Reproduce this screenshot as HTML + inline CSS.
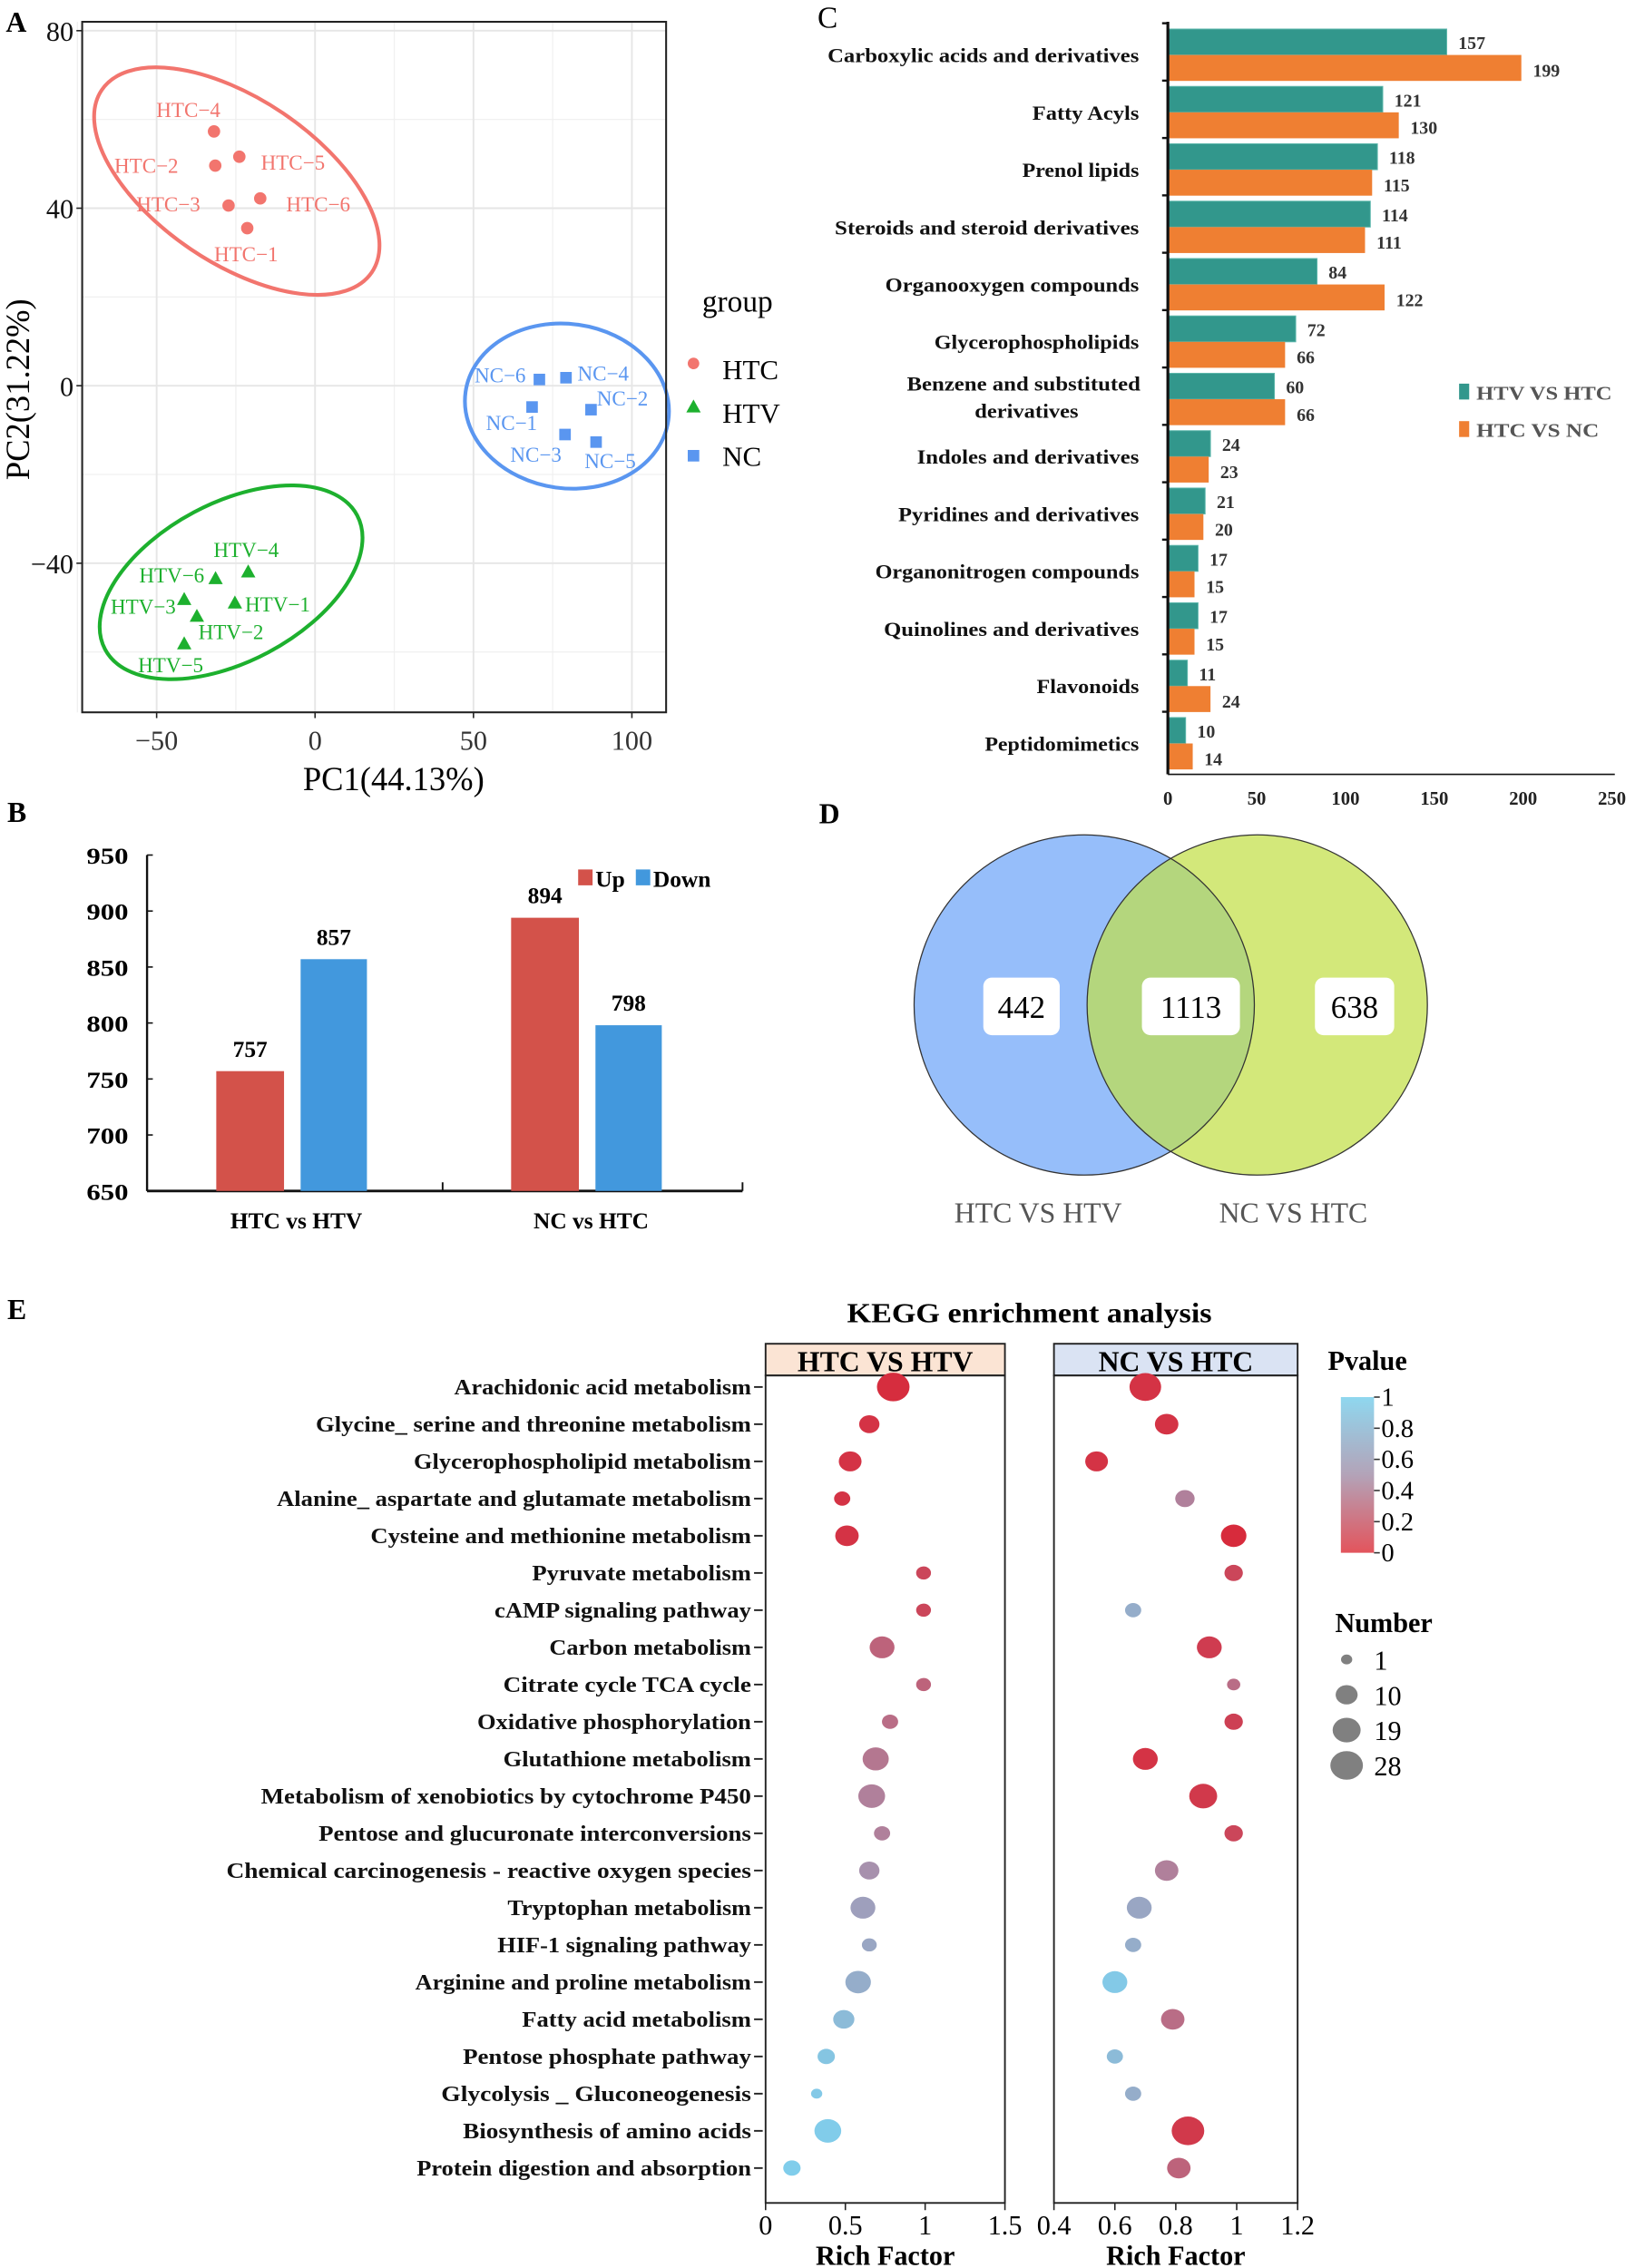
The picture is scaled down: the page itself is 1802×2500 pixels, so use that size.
<!DOCTYPE html>
<html><head><meta charset="utf-8"><style>
html,body{margin:0;padding:0;background:#fff}
svg{display:block;font-family:"Liberation Serif",serif}
</style></head><body>
<svg id="fig" xmlns="http://www.w3.org/2000/svg" width="1802" height="2500" viewBox="0 0 1134 1573">
<rect width="1134" height="1573" fill="#fff"/>
<g id="pA"></g>
<g id="pB"></g>
<g id="pC"></g>
<g id="pD"></g>
<g id="pE"></g>
</svg>
<script>
// ---------- Panel A data ----------
const pcaGroups=["HTC","HTV","NC"];
const htcNames=["HTC−1","HTC−2","HTC−3","HTC−4","HTC−5","HTC−6"];
const htcX=[-21.4,-31.5,-27.3,-31.9,-23.9,-17.3];
const htcY=[35.5,49.6,40.6,57.3,51.6,42.2];
const htvNames=["HTV−1","HTV−2","HTV−3","HTV−4","HTV−5","HTV−6"];
const htvX=[-25.3,-37.3,-41.3,-21.1,-41.3,-31.4];
const htvY=[-48.9,-51.9,-48.1,-41.9,-58.1,-43.4];
const ncNames=["NC−1","NC−2","NC−3","NC−4","NC−5","NC−6"];
const ncX=[68.5,87.1,78.9,79.2,88.7,70.8];
const ncY=[-4.8,-5.4,-11,1.8,-12.7,1.4];
const pcaXTicks=[-50,0,50,100];
const pcaYTicks=[80,40,0,-40];
// ---------- Panel B data ----------
const bCats=["HTC vs HTV","NC vs HTC"];
const bUp=[757,894];
const bDown=[857,798];
const bTicks=[650,700,750,800,850,900,950];
// ---------- Panel C data ----------
const cCats=["Carboxylic acids and derivatives","Fatty Acyls","Prenol lipids","Steroids and steroid derivatives","Organooxygen compounds","Glycerophospholipids","Benzene and substituted|derivatives","Indoles and derivatives","Pyridines and derivatives","Organonitrogen compounds","Quinolines and derivatives","Flavonoids","Peptidomimetics"];
const cHTV=[157,121,118,114,84,72,60,24,21,17,17,11,10];
const cHTC=[199,130,115,111,122,66,66,23,20,15,15,24,14];
const cTicks=[0,50,100,150,200,250];
// ---------- Panel D data ----------
const vennVals=[442,1113,638];
const vennLabels=["HTC VS HTV","NC VS HTC"];
// ---------- Panel E data ----------
const keggPaths=["Arachidonic acid metabolism","Glycine_ serine and threonine metabolism","Glycerophospholipid metabolism","Alanine_ aspartate and glutamate metabolism","Cysteine and methionine metabolism","Pyruvate metabolism","cAMP signaling pathway","Carbon metabolism","Citrate cycle TCA cycle","Oxidative phosphorylation","Glutathione metabolism","Metabolism of xenobiotics by cytochrome P450","Pentose and glucuronate interconversions","Chemical carcinogenesis - reactive oxygen species","Tryptophan metabolism","HIF-1 signaling pathway","Arginine and proline metabolism","Fatty acid metabolism","Pentose phosphate pathway","Glycolysis _ Gluconeogenesis","Biosynthesis of amino acids","Protein digestion and absorption"];
const leftRich=[0.80,0.65,0.53,0.48,0.51,0.99,0.99,0.73,0.99,0.78,0.69,0.665,0.73,0.65,0.61,0.65,0.58,0.49,0.38,0.32,0.39,0.165];
const leftP=[0.02,0.05,0.05,0.05,0.05,0.15,0.15,0.3,0.3,0.35,0.4,0.45,0.45,0.55,0.65,0.7,0.75,0.85,0.92,0.95,0.97,0.98];
const leftNum=[28,8,11,4,12,3,3,14,3,4,16,17,4,8,14,3,15,9,5,1,17,5];
const rightRich=[0.70,0.77,0.54,0.83,0.99,0.99,0.66,0.91,0.99,0.99,0.70,0.89,0.99,0.77,0.68,0.66,0.60,0.79,0.60,0.66,0.84,0.81];
const rightP=[0.05,0.05,0.05,0.45,0.01,0.15,0.75,0.1,0.35,0.12,0.05,0.08,0.15,0.45,0.7,0.75,0.95,0.35,0.85,0.75,0.08,0.3];
const rightNum=[26,12,11,7,15,6,4,14,2,6,14,19,6,12,14,4,14,12,4,4,28,12];
const leftTicks=[0,0.5,1,1.5];
const rightTicks=[0.4,0.6,0.8,1,1.2];
const pTicks=[1,0.8,0.6,0.4,0.2,0];
const numTicks=[1,10,19,28];

const NS="http://www.w3.org/2000/svg";
function mk(tag,attrs,parent,txt){const e=document.createElementNS(NS,tag);for(const k in attrs)e.setAttribute(k,attrs[k]);if(txt!==undefined)e.textContent=txt;parent.appendChild(e);return e;}
function T(parent,x,y,s,size,anchor,opts){opts=opts||{};const a={x:x,y:y,'font-size':size,'text-anchor':anchor||'start',fill:opts.fill||'#000'};if(opts.bold)a['font-weight']='bold';if(opts.tl){a.textLength=opts.tl;a.lengthAdjust='spacingAndGlyphs';}if(opts.tr)a.transform=opts.tr;return mk('text',a,parent,s);}

// ================= Panel A =================
(function(){
const g=document.getElementById('pA');
const X0=57,X1=462,Y0=15,Y1=494,dx0=-73.5,dx1=110.8,dy0=-73.6,dy1=82;
const sx=v=>X0+(v-dx0)/(dx1-dx0)*(X1-X0);
const sy=v=>Y1-(v-dy0)/(dy1-dy0)*(Y1-Y0);
let e=T(g,4,22,"A",20,'start',{bold:true});

const grid=mk('g',{},g);
[-75,-25,25,75].forEach(v=>mk('line',{x1:sx(v),x2:sx(v),y1:Y0,y2:Y1,stroke:'#f0f0f0','stroke-width':0.8},grid));
[60,20,-20,-60].forEach(v=>mk('line',{x1:X0,x2:X1,y1:sy(v),y2:sy(v),stroke:'#f0f0f0','stroke-width':0.8},grid));
pcaXTicks.forEach(v=>mk('line',{x1:sx(v),x2:sx(v),y1:Y0,y2:Y1,stroke:'#e6e6e6','stroke-width':1.2},grid));
pcaYTicks.forEach(v=>mk('line',{x1:X0,x2:X1,y1:sy(v),y2:sy(v),stroke:'#e6e6e6','stroke-width':1.2},grid));
const ell=[[-24.7,46.1,113,57,34,'#f2756e'],[79.5,-4.6,71,57,8,'#5a96f0'],[-26.5,-44.3,99,55,-28,'#1db02e']];
ell.forEach((p,i)=>{const cx=sx(p[0]),cy=sy(p[1]);const el=mk('ellipse',{cx:cx,cy:cy,rx:p[2],ry:p[3],transform:`rotate(${p[4]} ${cx} ${cy})`,fill:'none',stroke:p[5],'stroke-width':2.6},g);
});
const offs={HTC:[[-23,23],[-70,5],[-64,4],[-40,-10],[15,9],[18,9]],
 HTV:[[7,6],[1,16],[-51,10],[-24,-10],[-32,20],[-53,3]],
 NC:[[-32,16],[4,-3],[-38,19],[8,2],[-8,18],[-45,2]]};
function pts(names,xs,ys,col,shape,grp){
 xs.forEach((v,i)=>{const x=sx(v),y=sy(ys[i]);let m;
  if(shape==='c')m=mk('circle',{cx:x,cy:y,r:4.3,fill:col},g);
  else if(shape==='t')m=mk('polygon',{points:`${x},${y-5} ${x-5},${y+4} ${x+5},${y+4}`,fill:col},g);
  else m=mk('rect',{x:x-4,y:y-4,width:8,height:8,fill:col},g);
  
  const o=offs[grp][i];const t=T(g,x+o[0],y+o[1],names[i],14.5,'start',{fill:col});
  });
}
pts(htcNames,htcX,htcY,'#f2756e','c','HTC');
pts(htvNames,htvX,htvY,'#1db02e','t','HTV');
pts(ncNames,ncX,ncY,'#5a96f0','s','NC');
const fr=mk('rect',{x:X0,y:Y0,width:X1-X0,height:Y1-Y0,fill:'none',stroke:'#222','stroke-width':1.3},g);

pcaXTicks.forEach(v=>{mk('line',{x1:sx(v),x2:sx(v),y1:Y1,y2:Y1+4,stroke:'#222'},g);const t=T(g,sx(v),520,String(v).replace('-','−'),19,'middle',{fill:'#333'});});
pcaYTicks.forEach(v=>{mk('line',{x1:X0-4,x2:X0,y1:sy(v),y2:sy(v),stroke:'#222'},g);const t=T(g,51,sy(v)+7,String(v).replace('-','−'),19,'end',{fill:'#111'});});
e=T(g,273,548,"PC1(44.13%)",23,'middle');
e=T(g,20,270,"PC2(31.22%)",23,'middle',{tr:'rotate(-90 20 270)'});
e=T(g,487,216,"group",21,'start');
const lc=['#f2756e','#1db02e','#5a96f0'];
pcaGroups.forEach((n,i)=>{const y=256+i*30;let m;
 if(i===0)m=mk('circle',{cx:481,cy:y-4,r:4,fill:lc[i]},g);
 else if(i===1)m=mk('polygon',{points:`481,${y-9} 476,${y} 486,${y}`,fill:lc[i]},g);
 else m=mk('rect',{x:477,y:y-4,width:8,height:8,fill:lc[i]},g);
 
 const t=T(g,501,y+7,n,19.5,'start');});
})();

// ================= Panel B =================
(function(){
const g=document.getElementById('pB');
const X0=102,X1=515,Y0=593,Y1=826,v0=650,v1=950;
const sy=v=>Y1-(v-v0)/(v1-v0)*(Y1-Y0);
let e=T(g,5,570,"B",20,'start',{bold:true});
mk('line',{x1:X0,x2:X0,y1:Y0,y2:Y1,stroke:'#111','stroke-width':1.5},g);
mk('line',{x1:X0,x2:X1,y1:Y1,y2:Y1,stroke:'#111','stroke-width':1.8},g);
[X0,307,X1].forEach(x=>mk('line',{x1:x,x2:x,y1:Y1,y2:Y1-6,stroke:'#111','stroke-width':1.2},g));
bTicks.forEach(v=>{mk('line',{x1:X0,x2:X0+4,y1:sy(v),y2:sy(v),stroke:'#111'},g);const t=T(g,89,sy(v)+6,String(v),16,'end',{bold:true,tl:29});});
const centers=[204.5,409];
bCats.forEach((c,i)=>{
 const up=mk('rect',{x:centers[i]-54.5,y:sy(bUp[i]),width:47,height:Y1-sy(bUp[i]),fill:'#d3524a'},g);
 
 const dn=mk('rect',{x:centers[i]+4,y:sy(bDown[i]),width:46,height:Y1-sy(bDown[i]),fill:'#4298dd'},g);
 
 let t=T(g,centers[i]-31,sy(bUp[i])-10,String(bUp[i]),16,'middle',{bold:true});
 t=T(g,centers[i]+27,sy(bDown[i])-10,String(bDown[i]),16,'middle',{bold:true});
 t=T(g,centers[i]+1,852,c,16,'middle',{bold:true});});
e=mk('rect',{x:401,y:603,width:10,height:11,fill:'#d3524a'},g);
e=T(g,413,615,"Up",16,'start',{bold:true});
e=mk('rect',{x:441,y:603,width:10,height:11,fill:'#4298dd'},g);
e=T(g,453,615,"Down",16,'start',{bold:true});
})();

// ================= Panel C =================
(function(){
const g=document.getElementById('pC');
const X0=810,Y0=15,Y1=537,bw=39.8;
const sx=v=>X0+v*1.232;
let e=T(g,567,19,"C",21,'start');
const labW=[216,74,81,211,176,142,162,154,167,183,177,71,107];
cCats.forEach((c,i)=>{
 const top=Y0+5+i*bw;
 const b1=mk('rect',{x:X0,y:top,width:sx(cHTV[i])-X0,height:18,fill:'#32978c',stroke:'#5fb8ad','stroke-width':0.6},g);
 
 const b2=mk('rect',{x:X0,y:top+18,width:sx(cHTC[i])-X0,height:18,fill:'#ef7f32'},g);
 
 let t=T(g,sx(cHTV[i])+8,top+14,String(cHTV[i]),12.5,'start',{bold:true,fill:'#333'});
 t=T(g,sx(cHTC[i])+8,top+33,String(cHTC[i]),12.5,'start',{bold:true,fill:'#333'});
 const cy=top+18;
 if(c.indexOf('|')>=0){const p=c.split('|');
  t=T(g,791,cy-6,p[0],14,'end',{bold:true,tl:labW[i],fill:'#111'});
  t=T(g,712,cy+13,p[1],14,'middle',{bold:true,tl:72,fill:'#111'});
 } else {t=T(g,790,cy+5,c,14,'end',{bold:true,tl:labW[i],fill:'#111'});}
 mk('line',{x1:X0-4,x2:X0,y1:Y0+i*bw+1,y2:Y0+i*bw+1,stroke:'#111','stroke-width':1.5},g);
});
mk('line',{x1:X0,x2:X0,y1:Y0,y2:Y1,stroke:'#111','stroke-width':2},g);
mk('line',{x1:X0,x2:1120,y1:Y1,y2:Y1,stroke:'#111','stroke-width':1},g);
cTicks.forEach(v=>{const t=T(g,sx(v),558,String(v),13,'middle',{bold:true,fill:'#222'});});
e=mk('rect',{x:1012,y:266,width:7,height:11,fill:'#32978c'},g);
e=T(g,1024,277,"HTV VS HTC",13.5,'start',{bold:true,fill:'#555',tl:94});
e=mk('rect',{x:1012,y:292,width:7,height:11,fill:'#ef7f32'},g);
e=T(g,1024,303,"HTC VS NC",13.5,'start',{bold:true,fill:'#555',tl:85});
})();

// ================= Panel D =================
(function(){
const g=document.getElementById('pD');
let e=T(g,568,571,"D",20,'start',{bold:true});
const defs=mk('defs',{},g);const cp=mk('clipPath',{id:'clipB'},defs);mk('circle',{cx:752,cy:697,r:118},cp);
e=mk('circle',{cx:752,cy:697,r:118,fill:'#96befa'},g);
e=mk('circle',{cx:872,cy:697,r:118,fill:'#d3e87a'},g);
e=mk('circle',{cx:872,cy:697,r:118,fill:'#b4d67d','clip-path':'url(#clipB)'},g);
mk('circle',{cx:752,cy:697,r:118,fill:'none',stroke:'#333','stroke-width':0.8},g);
mk('circle',{cx:872,cy:697,r:118,fill:'none',stroke:'#333','stroke-width':0.8},g);
const bx=[[682,53],[792,68],[912,55]],cxs=[708.5,826,939.5];
vennVals.forEach((v,i)=>{const r=mk('rect',{x:bx[i][0],y:678,width:bx[i][1],height:40,rx:6,fill:'#fff'},g);
 const t=T(g,cxs[i],706,String(v),22,'middle');});
e=T(g,720,848,vennLabels[0],20,'middle',{fill:'#555'});
e=T(g,897,848,vennLabels[1],20,'middle',{fill:'#555'});
})();

// ================= Panel E =================
(function(){
const g=document.getElementById('pE');
let e=T(g,5,915,"E",20,'start',{bold:true});
e=T(g,714,917,"KEGG enrichment analysis",19,'middle',{bold:true,tl:253});
const Y0=954,Y1=1528,row0=962,rs=25.8;
const ry=i=>row0+i*rs;
const rad=n=>2+1.6*Math.sqrt(n);
function lerp(a,b,t){return a+(b-a)*t}
function col(p){const s=[[216,41,58],[171,138,166],[126,208,238]];let a,b,t;if(p<0.5){a=s[0];b=s[1];t=p/0.5}else{a=s[1];b=s[2];t=(p-0.5)/0.5}
 return `rgb(${Math.round(lerp(a[0],b[0],t))},${Math.round(lerp(a[1],b[1],t))},${Math.round(lerp(a[2],b[2],t))})`;}
const panels=[{x0:531,x1:697,d0:0,d1:1.5,rich:leftRich,p:leftP,n:leftNum,ticks:leftTicks,head:'HTC VS HTV',hc:'#fbe4d4',name:'htc-vs-htv'},
 {x0:731,x1:900,d0:0.4,d1:1.2,rich:rightRich,p:rightP,n:rightNum,ticks:rightTicks,head:'NC VS HTC',hc:'#dae3f3',name:'nc-vs-htc'}];
panels.forEach(P=>{
 const sx=v=>P.x0+(v-P.d0)/(P.d1-P.d0)*(P.x1-P.x0);
 const pg=mk('g',{},g);
 let h=mk('rect',{x:P.x0,y:932,width:P.x1-P.x0,height:22,fill:P.hc,stroke:'#222','stroke-width':1.2},pg);
 h=T(pg,(P.x0+P.x1)/2,951,P.head,20,'middle',{bold:true});
 mk('rect',{x:P.x0,y:Y0,width:P.x1-P.x0,height:Y1-Y0,fill:'none',stroke:'#222','stroke-width':1.2},pg);
 P.rich.forEach((v,i)=>{const c=mk('ellipse',{cx:sx(v),cy:ry(i),rx:rad(P.n[i])*1.08,ry:rad(P.n[i])*0.95,fill:col(P.p[i])},pg);
  });
 P.ticks.forEach(v=>{mk('line',{x1:sx(v),x2:sx(v),y1:Y1,y2:Y1+5,stroke:'#222'},pg);const t=T(pg,sx(v),1550,String(v),19,'middle');});
 const t=T(pg,(P.x0+P.x1)/2,1571,"Rich Factor",19,'middle',{bold:true});
});
const starts=[315,219,287,192,257,369,343,381,349,331,349,181,221,157,352,345,288,362,321,306,321,289];
keggPaths.forEach((s,i)=>{const t=T(g,521,ry(i)+5,s,15,'end',{bold:true,tl:521-starts[i],fill:'#111'});
 mk('line',{x1:523,x2:529,y1:ry(i),y2:ry(i),stroke:'#222','stroke-width':1.2},g);});
e=T(g,921,950,"Pvalue",19,'start',{bold:true});
const defs=mk('defs',{},g);const lg=mk('linearGradient',{id:'pgrad',x1:0,y1:0,x2:0,y2:1},defs);
mk('stop',{offset:'0','stop-color':'#8fd7ef'},lg);mk('stop',{offset:'0.5','stop-color':'#b3a3b8'},lg);mk('stop',{offset:'1','stop-color':'#e3545c'},lg);
e=mk('rect',{x:930,y:969,width:23,height:108,fill:'url(#pgrad)'},g);
pTicks.forEach(v=>{const y=969+(1-v)*108;mk('line',{x1:953,x2:957,y1:y,y2:y,stroke:'#333'},g);const t=T(g,958,y+6,String(v),18,'start');});
e=T(g,926,1132,"Number",19,'start',{bold:true});
numTicks.forEach((n,i)=>{const y=1151+i*24.5;const c=mk('ellipse',{cx:934,cy:y,rx:rad(n)*1.08,ry:rad(n)*0.95,fill:'#808080'},g);
 const t=T(g,953,y+7,String(n),19,'start');});
})();
</script>
</body></html>
